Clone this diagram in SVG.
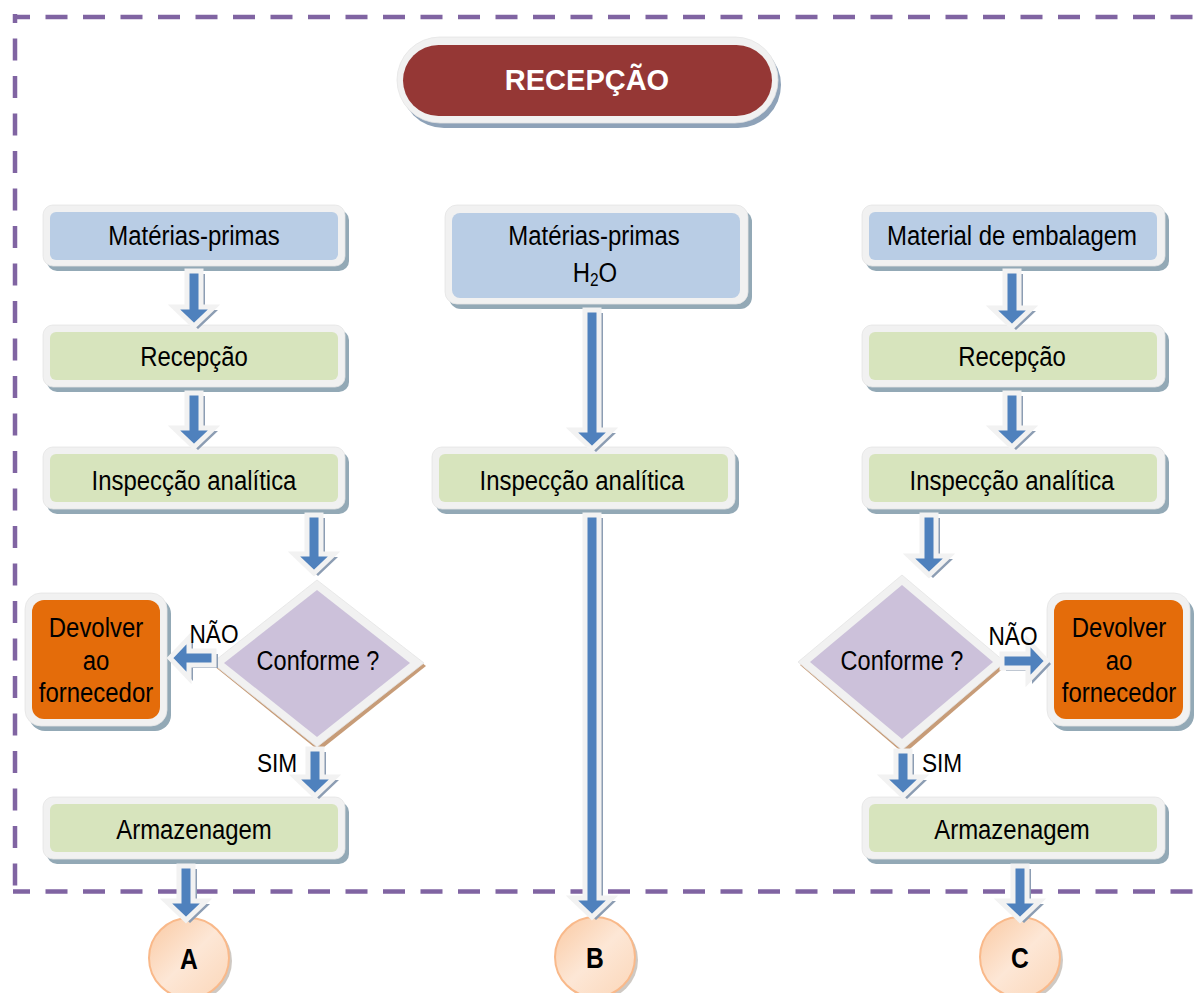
<svg xmlns="http://www.w3.org/2000/svg" width="1202" height="993" viewBox="0 0 1202 993">
<defs>
<style>
.bd{fill:none;stroke:#8064A2;stroke-width:4.5;stroke-dasharray:22 15.5}
.sh{fill:#93A9B6}
.fr{fill:#F1F1F1;stroke:#E4E4E4;stroke-width:0.8}
.blue{fill:#B9CDE5}
.green{fill:#D7E4BD}
.orange{fill:#E46C0A}
.lav{fill:#CCC1DA}
.dsh{fill:#C79C78}
.t{font-family:"Liberation Sans",Arial,sans-serif;font-size:28px;fill:#000;text-anchor:middle}
.lb{font-family:"Liberation Sans",Arial,sans-serif;font-size:26px;fill:#000;text-anchor:middle}
.cl{font-family:"Liberation Sans",Arial,sans-serif;font-size:29px;font-weight:bold;fill:#000;text-anchor:middle}
.ash{fill:#8C9DB3}
.arr{fill:#4F81BD;stroke:#F2F2F2;stroke-width:5;stroke-linejoin:miter}
.circ{fill:url(#cg);stroke:#F9B98A;stroke-width:2}
.csh{fill:#A89C92;opacity:0.55}
</style>
<linearGradient id="cg" x1="0" y1="0" x2="1" y2="1">
<stop offset="0" stop-color="#FAC9A2"/>
<stop offset="0.5" stop-color="#FDE7D6"/>
<stop offset="1" stop-color="#FBD6B8"/>
</linearGradient>
</defs>

<g id="border">
<path class="bd" d="M13 17 H1202" stroke-dashoffset="5"/>
<path class="bd" d="M15 14 V891" stroke-dashoffset="13"/>
<path class="bd" d="M13 891.5 H1202" stroke-dashoffset="5"/>
</g>

<g id="title">
<rect x="401" y="42" width="380" height="86" rx="43" fill="#8EA2B8"/>
<rect x="397" y="37" width="381" height="86" rx="43" class="fr"/>
<rect x="403" y="45" width="369" height="71" rx="35.5" fill="#953735"/>
<text x="587" y="90" font-family="Liberation Sans, Arial, sans-serif" font-size="29" font-weight="bold" fill="#FFFFFF" text-anchor="middle">RECEPÇÃO</text>
</g>

<!-- left column -->
<g id="l-mp">
<rect class="sh" x="47" y="210" width="302" height="61" rx="10"/>
<rect class="fr" x="43" y="205" width="302" height="61" rx="10"/>
<rect class="blue" x="50" y="212" width="288" height="48" rx="6"/>
<text class="t" transform="translate(194 245) scale(0.855 1)">Matérias-primas</text>
</g>
<g id="l-rec">
<rect class="sh" x="47" y="330" width="302" height="62" rx="10"/>
<rect class="fr" x="43" y="325" width="302" height="62" rx="10"/>
<rect class="green" x="50" y="332" width="288" height="48" rx="6"/>
<text class="t" transform="translate(194 366) scale(0.855 1)">Recepção</text>
</g>
<g id="l-insp">
<rect class="sh" x="47" y="452" width="302" height="62" rx="10"/>
<rect class="fr" x="43" y="447" width="302" height="62" rx="10"/>
<rect class="green" x="50" y="454" width="288" height="48" rx="6"/>
<text class="t" transform="translate(194 490) scale(0.855 1)">Inspecção analítica</text>
</g>
<g id="l-dec">
<polygon class="dsh" points="319,583 426,666 319,751 214,666"/>
<polygon class="fr" points="317,580 424,663 317,747 212,663"/>
<polygon class="lav" points="317,590 410,663 317,737 224,663"/>
<text class="t" transform="translate(318 670) scale(0.84 1)">Conforme ?</text>
</g>
<g id="l-dev">
<rect class="sh" x="29" y="598" width="142" height="133" rx="16"/>
<rect class="fr" x="25" y="593" width="142" height="133" rx="16"/>
<rect class="orange" x="32" y="600" width="128" height="119" rx="12"/>
<text class="t" transform="translate(96 637) scale(0.855 1)">Devolver</text>
<text class="t" transform="translate(96 670) scale(0.855 1)">ao</text>
<text class="t" transform="translate(96 702) scale(0.855 1)">fornecedor</text>
</g>
<g id="l-arm">
<rect class="sh" x="47" y="802" width="302" height="62" rx="10"/>
<rect class="fr" x="43" y="797" width="302" height="62" rx="10"/>
<rect class="green" x="50" y="804" width="288" height="48" rx="6"/>
<text class="t" transform="translate(194 839) scale(0.855 1)">Armazenagem</text>
</g>
<g id="circle-a">
<circle class="csh" cx="192" cy="961" r="40"/>
<circle class="circ" cx="189" cy="958" r="40"/>
<text class="cl" transform="translate(189 969) scale(0.85 1)">A</text>
</g>

<!-- middle column -->
<g id="m-mp">
<rect class="sh" x="449" y="210" width="303" height="99" rx="12"/>
<rect class="fr" x="445" y="205" width="303" height="99" rx="12"/>
<rect class="blue" x="452" y="213" width="288" height="85" rx="8"/>
<text class="t" transform="translate(594 245) scale(0.855 1)">Matérias-primas</text>
<text class="t" transform="translate(595 282) scale(0.855 1)">H<tspan font-size="18" dy="4">2</tspan><tspan dy="-4">O</tspan></text>
</g>
<g id="m-insp">
<rect class="sh" x="436" y="452" width="303" height="62" rx="10"/>
<rect class="fr" x="432" y="447" width="303" height="62" rx="10"/>
<rect class="green" x="439" y="454" width="289" height="48" rx="6"/>
<text class="t" transform="translate(582 490) scale(0.855 1)">Inspecção analítica</text>
</g>
<g id="circle-b">
<circle class="csh" cx="598" cy="960" r="40"/>
<circle class="circ" cx="595" cy="957" r="40"/>
<text class="cl" transform="translate(595 968) scale(0.85 1)">B</text>
</g>

<!-- right column -->
<g id="r-mp">
<rect class="sh" x="866" y="210" width="303" height="61" rx="10"/>
<rect class="fr" x="862" y="205" width="303" height="61" rx="10"/>
<rect class="blue" x="869" y="212" width="288" height="48" rx="6"/>
<text class="t" transform="translate(1012 245) scale(0.855 1)">Material de embalagem</text>
</g>
<g id="r-rec">
<rect class="sh" x="866" y="330" width="303" height="62" rx="10"/>
<rect class="fr" x="862" y="325" width="303" height="62" rx="10"/>
<rect class="green" x="869" y="332" width="288" height="48" rx="6"/>
<text class="t" transform="translate(1012 366) scale(0.855 1)">Recepção</text>
</g>
<g id="r-insp">
<rect class="sh" x="866" y="452" width="303" height="62" rx="10"/>
<rect class="fr" x="862" y="447" width="303" height="62" rx="10"/>
<rect class="green" x="869" y="454" width="288" height="48" rx="6"/>
<text class="t" transform="translate(1012 490) scale(0.855 1)">Inspecção analítica</text>
</g>
<g id="r-dec">
<polygon class="dsh" points="904,578 1007,665 904,754 800,665"/>
<polygon class="fr" points="902,575 1005,662 902,750 798,662"/>
<polygon class="lav" points="902,585 993,662 902,739 810,662"/>
<text class="t" transform="translate(902 670) scale(0.84 1)">Conforme ?</text>
</g>
<g id="r-dev">
<rect class="sh" x="1051" y="598" width="143" height="133" rx="16"/>
<rect class="fr" x="1047" y="593" width="143" height="133" rx="16"/>
<rect class="orange" x="1054" y="600" width="129" height="119" rx="12"/>
<text class="t" transform="translate(1119 637) scale(0.855 1)">Devolver</text>
<text class="t" transform="translate(1119 670) scale(0.855 1)">ao</text>
<text class="t" transform="translate(1119 702) scale(0.855 1)">fornecedor</text>
</g>
<g id="r-arm">
<rect class="sh" x="866" y="802" width="303" height="62" rx="10"/>
<rect class="fr" x="862" y="797" width="303" height="62" rx="10"/>
<rect class="green" x="869" y="804" width="288" height="48" rx="6"/>
<text class="t" transform="translate(1012 839) scale(0.855 1)">Armazenagem</text>
</g>
<g id="circle-c">
<circle class="csh" cx="1023" cy="960" r="40"/>
<circle class="circ" cx="1020" cy="957" r="40"/>
<text class="cl" transform="translate(1020 968) scale(0.85 1)">C</text>
</g>

<g id="connectors">
<g class="ash" transform="translate(4 3)">
<polygon points="187,271 201,271 201,307 214,307 194,326 174,307 187,307"/>
<polygon points="187,393 201,393 201,428 214,428 194,447 174,428 187,428"/>
<polygon points="307,515 321,515 321,554 334,554 314,573 294,554 307,554"/>
<polygon points="214,651 214,665 189,665 189,678 170,658 189,638 189,651"/>
<polygon points="308,749 322,749 322,777 335,777 315,796 295,777 308,777"/>
<polygon points="179,866 193,866 193,901 206,901 186,920 166,901 179,901"/>
<polygon points="585,310 599,310 599,430 612,430 592,449 572,430 585,430"/>
<polygon points="585,515 599,515 599,898 612,898 592,917 572,898 585,898"/>
<polygon points="1005,271 1019,271 1019,308 1032,308 1012,327 992,308 1005,308"/>
<polygon points="1005,393 1019,393 1019,428 1032,428 1012,447 992,428 1005,428"/>
<polygon points="922,515 936,515 936,556 949,556 929,575 909,556 922,556"/>
<polygon points="1002,654 1002,668 1028,668 1028,681 1047,661 1028,641 1028,654"/>
<polygon points="896,751 910,751 910,777 923,777 903,796 883,777 896,777"/>
<polygon points="1013,866 1027,866 1027,901 1040,901 1020,920 1000,901 1013,901"/>
</g>
<g class="arr">
<polygon points="187,271 201,271 201,307 214,307 194,326 174,307 187,307"/>
<polygon points="187,393 201,393 201,428 214,428 194,447 174,428 187,428"/>
<polygon points="307,515 321,515 321,554 334,554 314,573 294,554 307,554"/>
<polygon points="214,651 214,665 189,665 189,678 170,658 189,638 189,651"/>
<polygon points="308,749 322,749 322,777 335,777 315,796 295,777 308,777"/>
<polygon points="179,866 193,866 193,901 206,901 186,920 166,901 179,901"/>
<polygon points="585,310 599,310 599,430 612,430 592,449 572,430 585,430"/>
<polygon points="585,515 599,515 599,898 612,898 592,917 572,898 585,898"/>
<polygon points="1005,271 1019,271 1019,308 1032,308 1012,327 992,308 1005,308"/>
<polygon points="1005,393 1019,393 1019,428 1032,428 1012,447 992,428 1005,428"/>
<polygon points="922,515 936,515 936,556 949,556 929,575 909,556 922,556"/>
<polygon points="1002,654 1002,668 1028,668 1028,681 1047,661 1028,641 1028,654"/>
<polygon points="896,751 910,751 910,777 923,777 903,796 883,777 896,777"/>
<polygon points="1013,866 1027,866 1027,901 1040,901 1020,920 1000,901 1013,901"/>
</g>
<text class="lb" transform="translate(214 643) scale(0.87 1)">NÃO</text>
<text class="lb" transform="translate(277 772) scale(0.87 1)">SIM</text>
<text class="lb" transform="translate(1013 645) scale(0.87 1)">NÃO</text>
<text class="lb" transform="translate(942 772) scale(0.87 1)">SIM</text>
</g>
</svg>
